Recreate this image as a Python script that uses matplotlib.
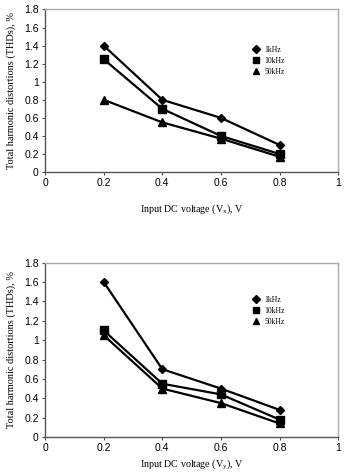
import matplotlib
matplotlib.use('Agg')
import matplotlib.pyplot as plt
from matplotlib.lines import Line2D

plt.rcParams['mathtext.fontset'] = 'custom'
plt.rcParams['mathtext.rm'] = 'Liberation Serif'

# input DC voltage, V
volts = [0.2, 0.4, 0.6, 0.8]

# THD (%) for Vx sweep (top chart)
thd_x_1k = [1.4, 0.8, 0.6, 0.3]
thd_x_10k = [1.25, 0.7, 0.4, 0.2]
thd_x_50k = [0.8, 0.55, 0.37, 0.17]

# THD (%) for Vy sweep (bottom chart)
thd_y_1k = [1.6, 0.7, 0.5, 0.28]
thd_y_10k = [1.1, 0.55, 0.44, 0.18]
thd_y_50k = [1.05, 0.5, 0.35, 0.14]

labels = ['1kHz', '10kHz', '50kHz']
markers = ['D', 's', '^']
msizes = [4.5, 5.5, 5.5]

x_ticks = [0, 0.2, 0.4, 0.6, 0.8, 1]
x_ticklabels = ['0', '0.2', '0.4', '0.6', '0.8', '1']
y_ticks = [0, 0.2, 0.4, 0.6, 0.8, 1, 1.2, 1.4, 1.6, 1.8]
y_ticklabels = ['0', '0.2', '0.4', '0.6', '0.8', '1', '1.2', '1.4', '1.6', '1.8']

fig = plt.figure(figsize=(3.44, 4.74), dpi=100)
ax1 = fig.add_axes([0.131, 0.637, 0.852, 0.343])
ax2 = fig.add_axes([0.131, 0.078, 0.852, 0.368])


def draw(ax, series, sub, label_pad, leg_y):
    for y, m, ms in zip(series, markers, msizes):
        ax.plot(volts, y, color='black', lw=1.6, marker=m, ms=ms)
    ax.set_xlim(0, 1)
    ax.set_ylim(0, 1.8)
    ax.set_xticks(x_ticks)
    ax.set_xticklabels(x_ticklabels, family='Liberation Sans', fontsize=7.5)
    ax.set_yticks(y_ticks)
    ax.set_yticklabels(y_ticklabels, family='Liberation Sans', fontsize=7.5)
    ax.tick_params(direction='out', length=2.5, width=0.8, color='#555555', pad=2)
    for s in ['left', 'bottom']:
        ax.spines[s].set_color('#555555')
        ax.spines[s].set_linewidth(1.0)
    for s in ['top', 'right']:
        ax.spines[s].set_color('#aaaaaa')
        ax.spines[s].set_linewidth(1.0)
    ax.set_ylabel('Total harmonic distortions (THDs), %', family='Liberation Serif',
                  fontsize=7.4, labelpad=6)
    ax.set_xlabel('Input DC voltage (V$_\\mathrm{' + sub + '}$), V', family='Liberation Serif',
                  fontsize=7.2, labelpad=label_pad)
    handles = [Line2D([], [], color='black', marker=m, ms=ms * 0.9, ls='none')
               for m, ms in zip(markers, msizes)]
    ax.legend(handles, labels, loc='upper left', bbox_to_anchor=(0.68, leg_y),
              frameon=False, prop={'family': 'Liberation Serif', 'size': 5.5},
              handletextpad=0.5, labelspacing=0.4, handlelength=1.2)


draw(ax1, [thd_x_1k, thd_x_10k, thd_x_50k], 'x', 10, 0.82)
draw(ax2, [thd_y_1k, thd_y_10k, thd_y_50k], 'y', 3, 0.85)

fig.savefig('out.png', dpi=100)
